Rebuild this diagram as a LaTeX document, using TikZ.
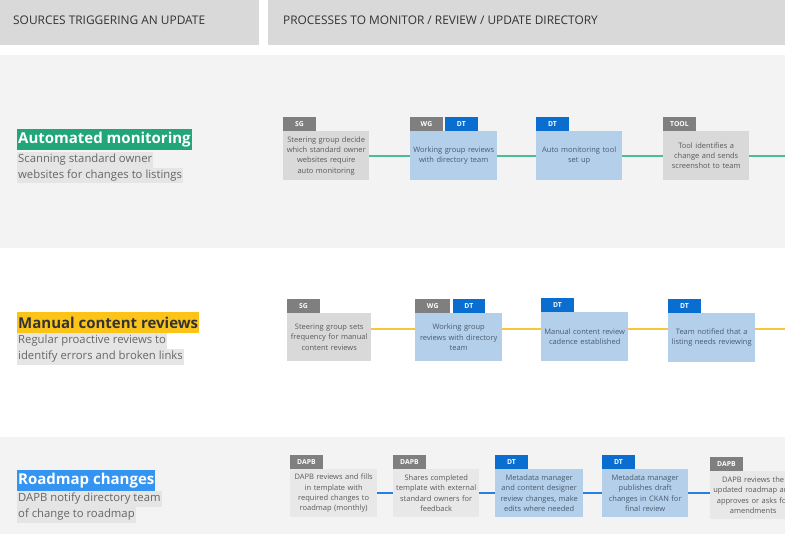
\documentclass[tikz,border=0pt]{standalone}
\usepackage{fontspec}
\setmainfont{Open Sans}
\definecolor{hdrgray}{HTML}{D9D9D9}
\definecolor{hdrtext}{HTML}{333333}
\definecolor{bandgray}{HTML}{F3F3F3}
\definecolor{boxgray}{HTML}{D9D9D9}
\definecolor{boxlight}{HTML}{E8E8E8}
\definecolor{boxblue}{HTML}{B3CFEA}
\definecolor{boxtext}{HTML}{595959}
\definecolor{bluetext}{HTML}{4A5B6E}
\definecolor{tagdt}{HTML}{0A6ED1}
\definecolor{taggray}{HTML}{7F7F7F}
\definecolor{amgreen}{HTML}{21A67A}
\definecolor{lngreen}{HTML}{4DBB93}
\definecolor{mcyellow}{HTML}{FCC419}
\definecolor{lnyellow}{HTML}{FBC53A}
\definecolor{rmblue}{HTML}{3494F2}
\definecolor{lnblue}{HTML}{2A7DE1}
\definecolor{subhl}{HTML}{E5E5E5}
\definecolor{subtext}{HTML}{666666}
\begin{document}
\begin{tikzpicture}[x=1pt,y=-1pt,
  hdrtxt/.style={anchor=west, text=hdrtext, font=\fontsize{11.9}{13}\selectfont, inner sep=0pt},
  title/.style={anchor=west, minimum height=21pt, inner xsep=1pt, inner ysep=0pt, font=\fontsize{15}{16}\bfseries\selectfont},
  subline/.style={anchor=west, fill=subhl, text=subtext, inner xsep=1pt, inner ysep=0pt, minimum height=15.5pt, text height=8.5pt, text depth=2.5pt, font=\fontsize{11.3}{13}\selectfont},
  procbox/.style={anchor=north west, minimum width=86pt, minimum height=49pt, inner sep=0pt, text width=84pt, align=center, font=\fontsize{7.5}{10.3}\selectfont},
  graybox/.style={procbox, fill=boxgray, text=boxtext},
  lightbox/.style={procbox, fill=boxlight, text=boxtext},
  bluebox/.style={procbox, fill=boxblue, text=bluetext},
  tagbox/.style={anchor=south west, minimum width=32.5pt, minimum height=14pt, inner sep=0pt, text=white, font=\fontsize{6.8}{7}\bfseries\selectfont},
  tgray/.style={tagbox, fill=taggray},
  tblue/.style={tagbox, fill=tagdt},
  flow/.style={line width=2pt}
]
\clip (0,0) rectangle (785,534);
% backgrounds
\fill[white] (0,0) rectangle (785,534);
\fill[hdrgray] (0,0) rectangle (259,45);
\fill[hdrgray] (268,0) rectangle (785,45);
\fill[bandgray] (0,55) rectangle (785,248);
\fill[bandgray] (0,437) rectangle (785,534);
\node[hdrtxt] (h1) at (13,20) {SOURCES TRIGGERING AN UPDATE};
\node[hdrtxt] (h2) at (283,20) {PROCESSES TO MONITOR / REVIEW / UPDATE DIRECTORY};

% ---------- Row 1 ----------
\node[title, fill=amgreen, text=white] (t1) at (17,139.5) {Automated monitoring};
\node[subline] (s1a) at (17,160) {Scanning standard owner};
\node[subline] (s1b) at (17,175.5) {websites for changes to listings};

\node[graybox] (b11) at (283,131) {Steering group decide\\ which standard owner\\ websites require\\ auto monitoring};
\node[bluebox, minimum width=87pt] (b12) at (410,131) {Working group reviews\\ with directory team};
\node[bluebox] (b13) at (536,131) {Auto monitoring tool\\ set up};
\node[graybox] (b14) at (663,131) {Tool identifies a\\ change and sends\\ screenshot to team};
\node[tgray] (g11) at (b11.north west) {SG};
\node[tgray] (g12) at (b12.north west) {WG};
\node[tblue] (g12b) at ([xshift=2pt]g12.south east) {DT};
\node[tblue] (g13) at (b13.north west) {DT};
\node[tgray] (g14) at (b14.north west) {TOOL};
\coordinate (e1) at (785,156);
\draw[flow, lngreen] (b11.east |- e1) -- (b12.west |- e1);
\draw[flow, lngreen] (b12.east |- e1) -- (b13.west |- e1);
\draw[flow, lngreen] (b13.east |- e1) -- (b14.west |- e1);
\draw[flow, lngreen] (b14.east |- e1) -- (e1);

% ---------- Row 2 ----------
\node[title, fill=mcyellow, text=black!80] (t2) at (17,322.5) {Manual content reviews};
\node[subline] (s2a) at (17,341) {Regular proactive reviews to};
\node[subline] (s2b) at (17,357) {identify errors and broken links};

\node[graybox, minimum width=84pt, minimum height=48pt] (b21) at (287,313) {Steering group sets\\ frequency for manual\\ content reviews};
\node[bluebox, minimum width=87pt, minimum height=48pt] (b22) at (415,313) {Working group\\ reviews with directory\\ team};
\node[bluebox, minimum width=87pt, minimum height=49pt] (b23) at (541,312) {Manual content review\\ cadence established};
\node[bluebox, minimum width=87pt, minimum height=49pt] (b24) at (668,313) {Team notified that a\\ listing needs reviewing};
\node[tgray] (g21) at (b21.north west) {SG};
\node[tgray, minimum width=35pt] (g22) at (b22.north west) {WG};
\node[tblue] (g22b) at ([xshift=2pt]g22.south east) {DT};
\node[tblue] (g23) at (b23.north west) {DT};
\node[tblue] (g24) at (b24.north west) {DT};
\coordinate (e2) at (785,329);
\draw[flow, lnyellow] (b21.east |- e2) -- (b22.west |- e2);
\draw[flow, lnyellow] (b22.east |- e2) -- (b23.west |- e2);
\draw[flow, lnyellow] (b23.east |- e2) -- (b24.west |- e2);
\draw[flow, lnyellow] (b24.east |- e2) -- (e2);

% ---------- Row 3 ----------
\node[title, fill=rmblue, text=white] (t3) at (17,481) {Roadmap changes};
\node[subline] (s3a) at (17,499) {DAPB notify directory team};
\node[subline] (s3b) at (17,515) {of change to roadmap};

\node[lightbox, minimum width=87pt, minimum height=48pt] (b31) at (290,469) {DAPB reviews and fills\\ in template with\\ required changes to\\ roadmap (monthly)};
\node[lightbox, minimum height=48pt] (b32) at (393,469) {Shares completed\\ template with external\\ standard owners for\\ feedback};
\node[bluebox, minimum width=88pt, minimum height=48pt] (b33) at (495,469) {Metadata manager\\ and content designer\\ review changes, make\\ edits where needed};
\node[bluebox, minimum height=48pt] (b34) at (602,469) {Metadata manager\\ publishes draft\\ changes in CKAN for\\ final review};
\node[lightbox, minimum height=48pt] (b35) at (710,471) {DAPB reviews the\\ updated roadmap and\\ approves or asks for\\ amendments};
\node[tgray] (g31) at (b31.north west) {DAPB};
\node[tgray] (g32) at (b32.north west) {DAPB};
\node[tblue] (g33) at (b33.north west) {DT};
\node[tblue] (g34) at (b34.north west) {DT};
\node[tgray] (g35) at (b35.north west) {DAPB};
\coordinate (e3) at (700,493);
\draw[flow, lnblue] (b31.east |- e3) -- (b32.west |- e3);
\draw[flow, lnblue] (b32.east |- e3) -- (b33.west |- e3);
\draw[flow, lnblue] (b33.east |- e3) -- (b34.west |- e3);
\draw[flow, lnblue] (b34.east |- e3) -- (b35.west |- e3);
\end{tikzpicture}
\end{document}
